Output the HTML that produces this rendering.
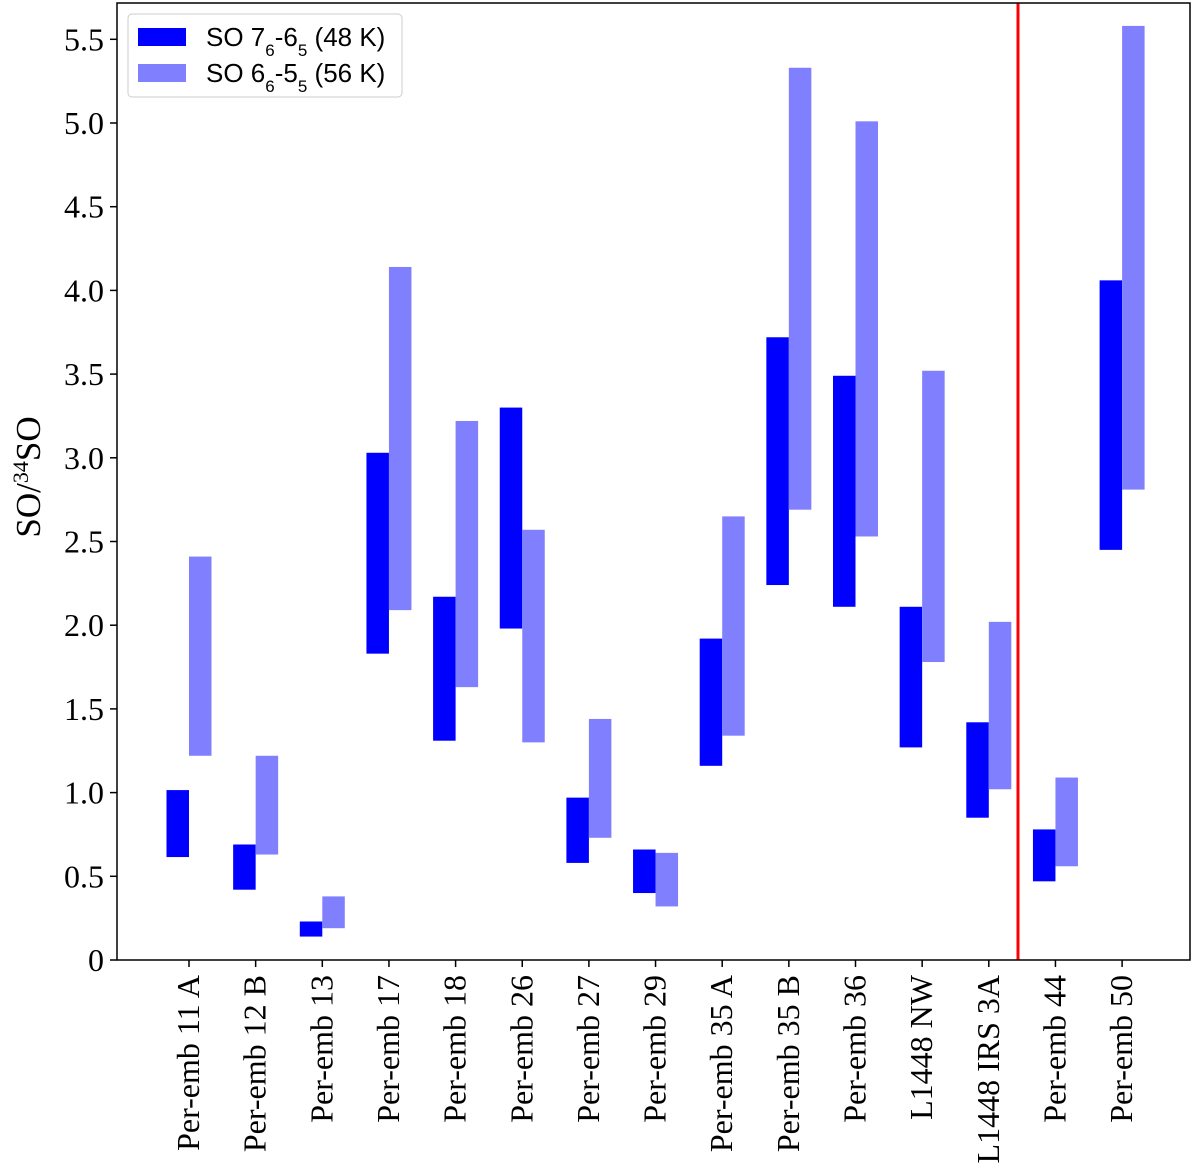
<!DOCTYPE html>
<html><head><meta charset="utf-8"><style>
body{margin:0;background:#fff}
svg text{font-family:"Liberation Serif",serif}
</style></head><body>
<svg id="chart" width="1200" height="1168" xmlns="http://www.w3.org/2000/svg">
<g id="bars"></g>
<line x1="1018" y1="3" x2="1018" y2="960" stroke="#ff0000" stroke-width="3"/>
<rect x="117" y="3" width="1073" height="957" fill="none" stroke="#000" stroke-width="1.5"/>
<g id="yaxis"></g>
<g id="xaxis"></g>
<text transform="translate(40,477) rotate(-90)" text-anchor="middle" font-size="35">SO/<tspan baseline-shift="super" font-size="22">34</tspan>SO</text>
<g>
<rect x="128" y="14" width="274" height="83" rx="4" fill="#fff" stroke="#ccc"/>
<rect x="138" y="28" width="48" height="18" fill="#0000ff"/>
<text x="206" y="46" font-size="26" style="font-family:'Liberation Sans',sans-serif">SO 7<tspan baseline-shift="sub" font-size="17">6</tspan>-6<tspan baseline-shift="sub" font-size="17">5</tspan> (48 K)</text>
<rect x="138" y="64" width="48" height="18" fill="#8080ff"/>
<text x="206" y="82" font-size="26" style="font-family:'Liberation Sans',sans-serif">SO 6<tspan baseline-shift="sub" font-size="17">6</tspan>-5<tspan baseline-shift="sub" font-size="17">5</tspan> (56 K)</text>
</g>
</svg>
<script>
const categories=["Per-emb 11 A","Per-emb 12 B","Per-emb 13","Per-emb 17","Per-emb 18","Per-emb 26","Per-emb 27","Per-emb 29","Per-emb 35 A","Per-emb 35 B","Per-emb 36","L1448 NW","L1448 IRS 3A","Per-emb 44","Per-emb 50"];
const so76Low=[0.615,0.42,0.14,1.83,1.31,1.98,0.58,0.40,1.16,2.24,2.11,1.27,0.85,0.47,2.45];
const so76High=[1.015,0.69,0.23,3.03,2.17,3.30,0.97,0.66,1.92,3.72,3.49,2.11,1.42,0.78,4.06];
const so66Low=[1.22,0.63,0.19,2.09,1.63,1.30,0.73,0.32,1.34,2.69,2.53,1.78,1.02,0.56,2.81];
const so66High=[2.41,1.22,0.38,4.14,3.22,2.57,1.44,0.64,2.65,5.33,5.01,3.52,2.02,1.09,5.58];
const yTicks=[0,0.5,1.0,1.5,2.0,2.5,3.0,3.5,4.0,4.5,5.0,5.5];
const yTickLabels=["0","0.5","1.0","1.5","2.0","2.5","3.0","3.5","4.0","4.5","5.0","5.5"];
const NS="http://www.w3.org/2000/svg";
function y(v){return 960-v*167.4;}
function x(i){return 189+66.65*i;}
function mk(t,a,p){const e=document.createElementNS(NS,t);for(const k in a)e.setAttribute(k,a[k]);p.appendChild(e);return e;}
const bars=document.getElementById('bars');
categories.forEach((c,i)=>{
 let r=mk('rect',{x:x(i)-22.5,y:y(so76High[i]),width:22.5,height:y(so76Low[i])-y(so76High[i]),fill:'#0000ff'},bars);
 
 
 let r2=mk('rect',{x:x(i),y:y(so66High[i]),width:22.5,height:y(so66Low[i])-y(so66High[i]),fill:'#8080ff'},bars);
 
 
});
const ya=document.getElementById('yaxis');
yTicks.forEach((v,i)=>{
 mk('line',{x1:110,x2:117,y1:y(v),y2:y(v),stroke:'#000','stroke-width':1.5},ya);
 let t=mk('text',{x:104,y:y(v)+11,'text-anchor':'end','font-size':32},ya);
 t.textContent=yTickLabels[i];
 
 
});
const xa=document.getElementById('xaxis');
categories.forEach((c,i)=>{
 mk('line',{x1:x(i),x2:x(i),y1:960,y2:967,stroke:'#000','stroke-width':1.5},xa);
 let t=mk('text',{transform:`translate(${x(i)+10},975) rotate(-90)`,'text-anchor':'end','font-size':32},xa);
 t.textContent=c;
 
 
});
</script>
</body></html>
